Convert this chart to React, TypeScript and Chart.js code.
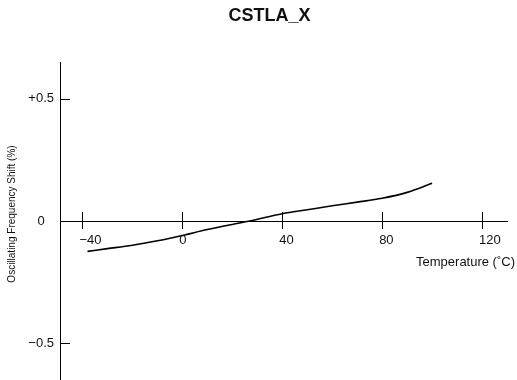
import React, { useEffect, useRef } from "react";
import { Chart, registerables } from "chart.js";

Chart.register(...registerables);

const chartTitle = "CSTLA_X";
const xAxisTitle = "Temperature (˚C)";
const yAxisTitle = "Oscillating Frequency Shift (%)";

const temperatures = [-38, -30, -20, -10, 0, 10, 20, 27, 40, 50, 60, 70, 80, 90, 100];
const freqShift = [-0.124, -0.113, -0.099, -0.081, -0.059, -0.035, -0.014, 0, 0.03, 0.046, 0.062, 0.077, 0.093, 0.117, 0.154];

const xTicks = [-40, 0, 40, 80, 120];
const xTickLabels = ["\u221240", "0", "40", "80", "120"];
const yTicks = [-0.5, 0, 0.5];
const yTickLabels = ["\u22120.5", "0", "+0.5"];

const FONT = "'Liberation Sans', Arial, Helvetica, sans-serif";

const decorPlugin = {
  id: "decor",
  afterDraw(chart: any) {
    const ctx = chart.ctx;
    const xs = chart.scales.x;
    const ys = chart.scales.y;
    const area = chart.chartArea;
    const y0 = ys.getPixelForValue(0);
    ctx.save();
    ctx.strokeStyle = "#000";
    ctx.lineWidth = 1;
    ctx.beginPath();
    yTicks.forEach((v) => {
      const py = Math.round(ys.getPixelForValue(v)) + 0.5;
      ctx.moveTo(area.left, py);
      ctx.lineTo(area.left + 10, py);
    });
    xTicks.forEach((v) => {
      const px = Math.round(xs.getPixelForValue(v)) + 0.5;
      ctx.moveTo(px, y0 - 9);
      ctx.lineTo(px, y0 + 8);
    });
    ctx.stroke();

    ctx.fillStyle = "#111";
    ctx.font = "bold 18px " + FONT;
    ctx.textAlign = "center";
    ctx.textBaseline = "middle";
    ctx.fillText(chartTitle, 269.5, 16);

    ctx.font = "13px " + FONT;
    ctx.textAlign = "right";
    ctx.fillText(xAxisTitle, 515, 262);

    ctx.translate(12, 214);
    ctx.rotate(-Math.PI / 2);
    ctx.font = "10px " + FONT;
    ctx.textAlign = "center";
    ctx.fillText(yAxisTitle, 0, 0);
    ctx.restore();
  },
};

export default function App() {
  const ref = useRef<HTMLCanvasElement | null>(null);

  useEffect(() => {
    if (!ref.current) return;
    const chart = new Chart(ref.current, {
      type: "line",
      data: {
        datasets: [
          {
            data: temperatures.map((t, i) => ({ x: t, y: freqShift[i] })),
            borderColor: "#000",
            borderWidth: 1.6,
            pointRadius: 0,
            tension: 0.4,
            cubicInterpolationMode: "monotone",
            fill: false,
          },
        ],
      },
      options: {
        animation: false,
        responsive: false,
        devicePixelRatio: 1,
        layout: { padding: { top: 62, right: 10, left: 0, bottom: 0 } },
        plugins: {
          legend: { display: false },
          tooltip: { enabled: false },
          title: { display: false },
        },
        scales: {
          x: {
            type: "linear",
            position: { y: 0 } as any,
            min: -49,
            max: 130,
            grid: { display: false, drawTicks: false },
            border: { display: true, color: "#000", width: 1 },
            afterBuildTicks: (s: any) => {
              s.ticks = xTicks.map((v) => ({ value: v }));
            },
            afterFit: (s: any) => {
              s.height = 0;
              s.paddingLeft = 0;
              s.paddingRight = 0;
            },
            ticks: {
              align: "start",
              labelOffset: -3,
              padding: 12,
              color: "#111",
              font: { family: FONT, size: 13 },
              maxRotation: 0,
              autoSkip: false,
              callback: (v: any) => {
                const i = xTicks.indexOf(Number(v));
                return i >= 0 ? xTickLabels[i] : "";
              },
            },
          },
          y: {
            type: "linear",
            min: -0.65,
            max: 0.65,
            grid: { display: false, drawTicks: false },
            border: { display: true, color: "#000", width: 1 },
            afterBuildTicks: (s: any) => {
              s.ticks = yTicks.map((v) => ({ value: v }));
            },
            afterFit: (s: any) => {
              s.width = 60;
              s.paddingTop = 0;
              s.paddingBottom = 0;
            },
            ticks: {
              crossAlign: "center",
              padding: 6,
              color: "#111",
              font: { family: FONT, size: 13 },
              autoSkip: false,
              callback: (v: any) => {
                const i = yTicks.findIndex((t) => Math.abs(t - Number(v)) < 1e-9);
                return i >= 0 ? yTickLabels[i] : "";
              },
            },
          },
        },
      },
      plugins: [decorPlugin],
    });
    return () => chart.destroy();
  }, []);

  return (
    <div style={{ position: "fixed", left: 0, top: 0, width: 517, height: 380, background: "#fff" }}>
      <canvas ref={ref} width={517} height={380} />
    </div>
  );
}
